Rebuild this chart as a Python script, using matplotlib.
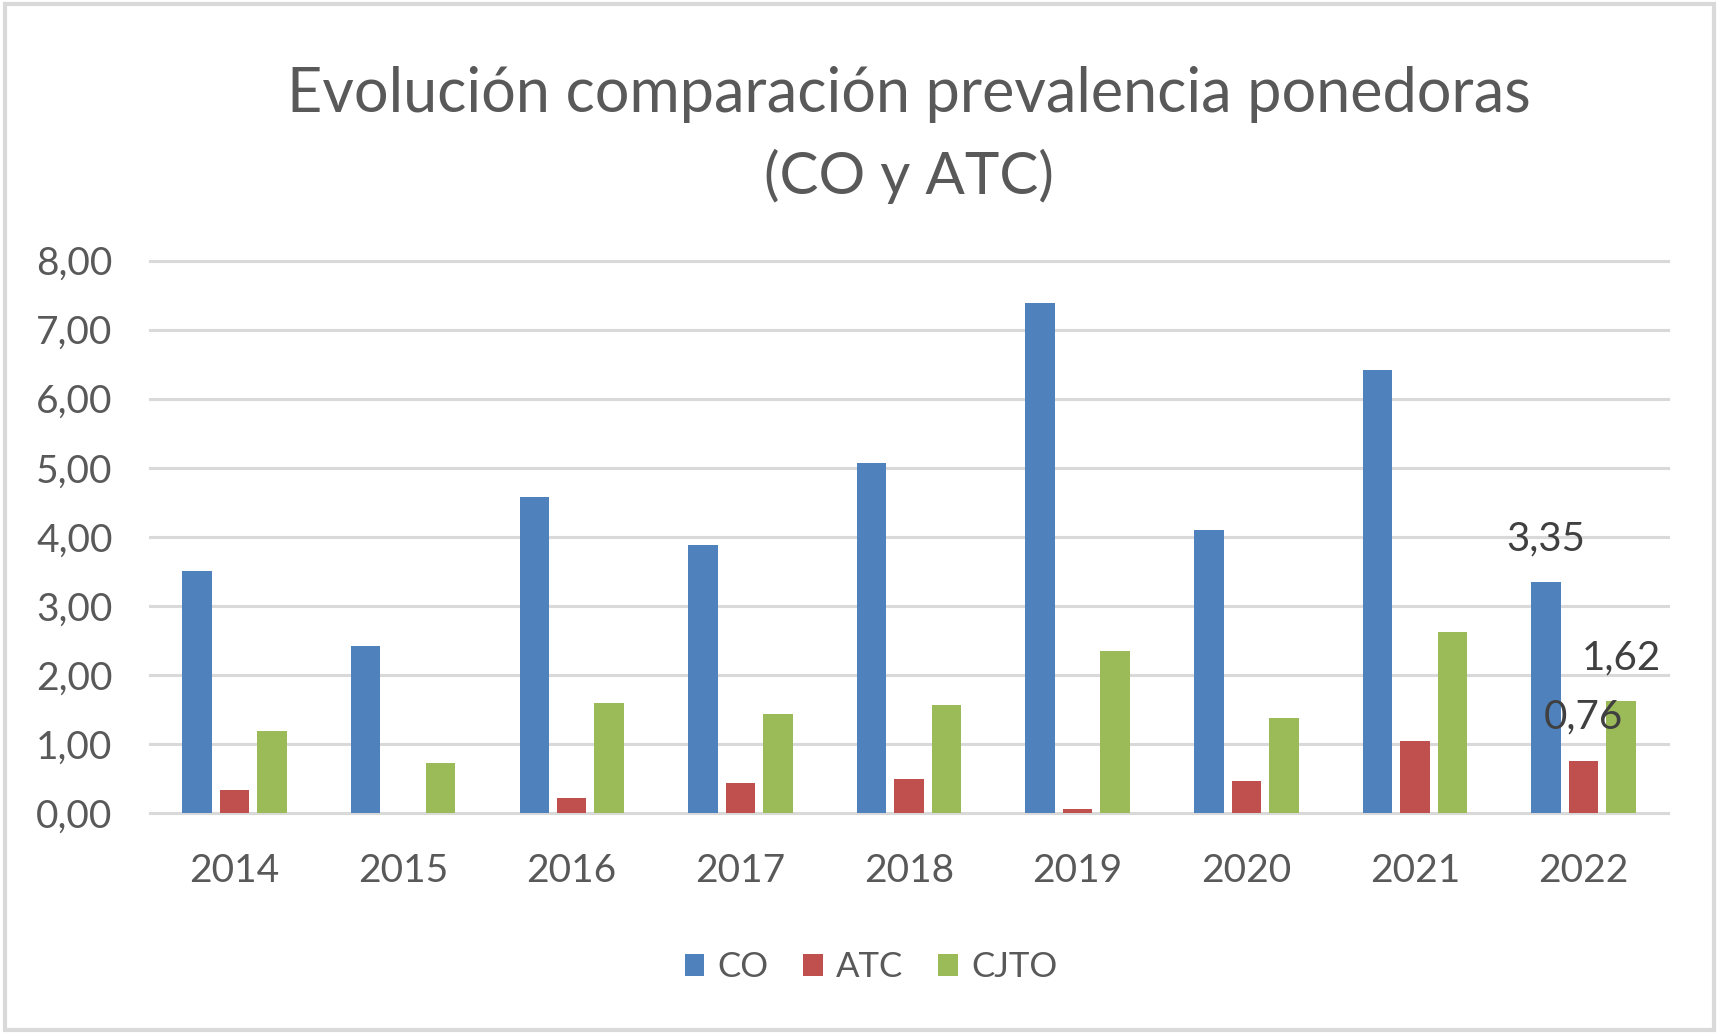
import matplotlib.pyplot as plt
import numpy as np
from matplotlib.ticker import FuncFormatter

plt.rcParams['font.family'] = ['Lato', 'DejaVu Sans']

years = ['2014', '2015', '2016', '2017', '2018', '2019', '2020', '2021', '2022']
co = [3.51, 2.42, 4.58, 3.88, 5.07, 7.39, 4.10, 6.42, 3.35]
atc = [0.33, 0.00, 0.22, 0.43, 0.49, 0.06, 0.46, 1.05, 0.76]
cjto = [1.19, 0.73, 1.59, 1.43, 1.56, 2.35, 1.38, 2.62, 1.62]

text_color = '#595959'
grid_color = '#D9D9D9'

fig = plt.figure(figsize=(17.19, 10.34), dpi=100)
ax = fig.add_axes([0.0873, 0.2137, 0.883, 0.5343])

x = np.arange(len(years))
off = 0.222
w = 0.175
ax.bar(x - off, co, w, color='#4F81BD', label='CO', zorder=3)
ax.bar(x, atc, w, color='#C0504D', label='ATC', zorder=3)
ax.bar(x + off, cjto, w, color='#9BBB59', label='CJTO', zorder=3)

# data labels only on the last year
i = len(years) - 1
lab = dict(ha='center', va='center', fontsize=29, color='#404040', zorder=4)
ax.text(x[i] - off, co[i] + 0.62, f'{co[i]:.2f}'.replace('.', ','), **lab)
ax.text(x[i] + off, cjto[i] + 0.63, f'{cjto[i]:.2f}'.replace('.', ','), **lab)
ax.text(x[i], atc[i] + 0.63, f'{atc[i]:.2f}'.replace('.', ','), **lab)

ax.set_xlim(-0.5, len(years) - 0.5)
ax.set_ylim(0, 8)
ax.set_yticks(np.arange(0, 9, 1))
ax.yaxis.set_major_formatter(FuncFormatter(lambda v, p: f'{v:.2f}'.replace('.', ',')))
ax.set_xticks(x)
ax.set_xticklabels(years)
ax.tick_params(axis='both', length=0, labelsize=28, labelcolor=text_color)
ax.tick_params(axis='x', pad=29)
ax.tick_params(axis='y', pad=27)
for s in ax.spines.values():
    s.set_visible(False)
ax.grid(axis='y', color=grid_color, linewidth=2.2, zorder=0)
for gl in ax.get_ygridlines():
    gl.set_clip_on(False)

fig.text(0.529, 0.909, 'Evolución comparación prevalencia ponedoras', ha='center', va='center',
         fontsize=44, color=text_color)
fig.text(0.529, 0.829, '(CO y ATC)', ha='center', va='center', fontsize=42, color=text_color)

ax.legend(loc='center', bbox_to_anchor=(0.475, -0.279), ncol=3, frameon=False, fontsize=25,
          labelcolor=text_color, handlelength=0.57, handleheight=0.57, handletextpad=0.38,
          columnspacing=1.0)

# outer chart border
fig.patches.append(plt.Rectangle((0.003, 0.004), 0.994, 0.992, transform=fig.transFigure,
                                 fill=False, edgecolor=grid_color, linewidth=3))

fig.savefig('out.png', dpi=100)
